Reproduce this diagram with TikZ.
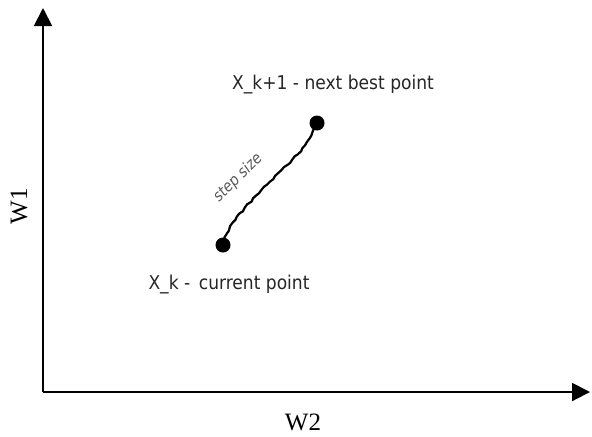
\documentclass[tikz,border=0pt]{standalone}
\usepackage{fontspec}
\setmainfont{Liberation Serif}
\newfontfamily\labelfont{DejaVu Sans Condensed}
\usetikzlibrary{arrows.meta, decorations.pathmorphing}

\begin{document}
\begin{tikzpicture}[x=0.5pt, y=-0.5pt]
    \useasboundingbox (0,0) rectangle (592,436);
    % Draw nodes
    \coordinate (o) at (43,392);
    \coordinate (ytip) at (43,8);
    \coordinate (xtip) at (590,392);
    \node[circle, fill=black, inner sep=0pt, minimum size=7.5pt] (cur) at (223,245) {};
    \node[circle, fill=black, inner sep=0pt, minimum size=7.5pt] (nxt) at (317,123) {};

    % Draw connections
    \draw[line width=1pt, -{Triangle[length=9pt, width=9pt]}] (o) -- (ytip);
    \draw[line width=1pt, -{Triangle[length=9pt, width=9pt]}] (o) -- (xtip);
    \draw[line width=1.1pt, decorate, decoration={random steps, segment length=2pt, amplitude=0.4pt}]
        (cur.center) .. controls (226,222) and (262,190) .. (292,160) .. controls (304,148) and (310,140) .. (nxt.center);

    % Labels
    \node[rotate=90, font=\fontsize{12.5}{14}\selectfont] (w1) at (19,206) {W1};
    \node[font=\fontsize{12.5}{14}\selectfont] (w2) at (303,422) {W2};
    \node[font=\labelfont\fontsize{9.5}{11}\selectfont, text=black!85] (lnxt) at (333,85) {X\_k+1 - next best point};
    \node[font=\labelfont\fontsize{9.5}{11}\selectfont, text=black!85] (lcur) at (229,285) {X\_k -\, current point};
    \node[rotate=45, font=\labelfont\itshape\fontsize{7.8}{9}\selectfont, text=black!65] (lstep) at (238,178) {step size};
\end{tikzpicture}
\end{document}
